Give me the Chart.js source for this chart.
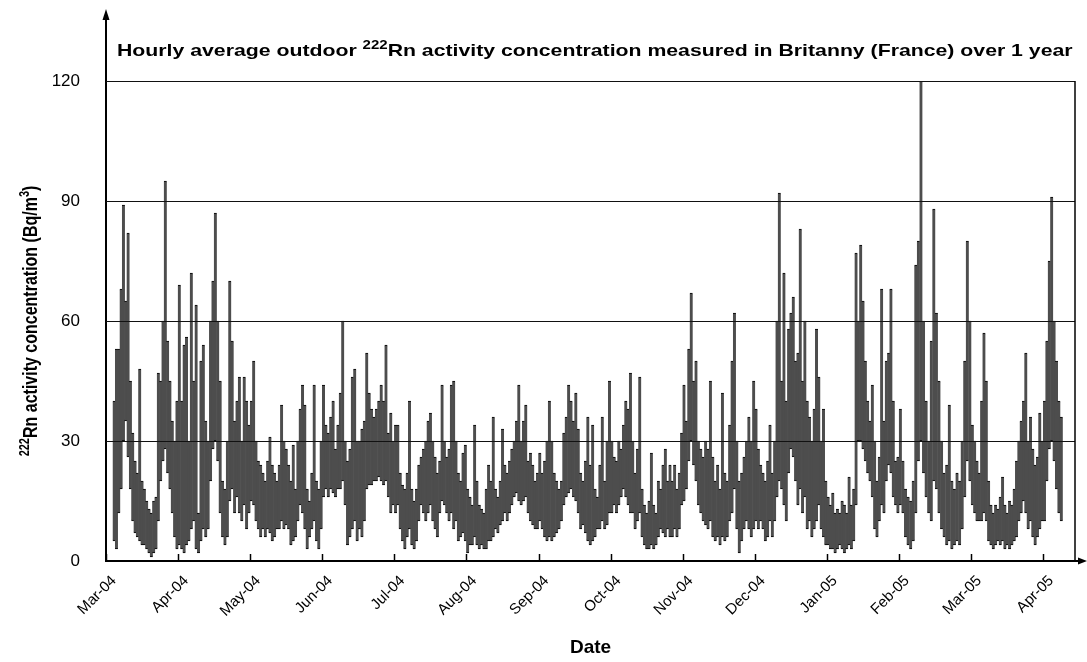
<!DOCTYPE html>
<html>
<head>
<meta charset="utf-8">
<script src="https://cdn.jsdelivr.net/npm/chart.js@4.4.1/dist/chart.umd.min.js"></script>
<style>
  html, body { margin: 0; padding: 0; background: #fff; }
  #wrap { width: 1087px; height: 662px; }
</style>
</head>
<body>
<div id="wrap"><canvas id="radonChart" width="1087" height="662"></canvas></div>
<script>
// month ticks on the date axis
const monthLabels = ["Mar-04", "Apr-04", "May-04", "Jun-04", "Jul-04", "Aug-04", "Sep-04",
  "Oct-04", "Nov-04", "Dec-04", "Jan-05", "Feb-05", "Mar-05", "Apr-05"];
const monthDays = [31, 30, 31, 30, 31, 31, 30, 31, 30, 31, 31, 28, 31, 30];
const yTicks = [0, 30, 60, 90, 120];

// daily lowest / highest hourly value (Bq/m3); null = no data yet
const mar04Low  = [null, null, null, 5, 3, 12, 18, 30, 35, 26, 18, 10, 7, 6, 5, 4, 4, 3, 2, 1, 2, 3, 10, 20, 25, 28, 22, 18, 12, 6, 3];
const mar04High = [null, null, null, 40, 53, 53, 68, 89, 65, 82, 45, 32, 25, 22, 48, 20, 18, 15, 13, 12, 15, 16, 47, 45, 60, 95, 55, 45, 35, 30, 40];
const apr04Low  = [4, 3, 2, 4, 5, 8, 10, 3, 2, 5, 8, 6, 8, 20, 28, 30, 25, 12, 6, 4, 6, 15, 18, 12, 16, 12, 10, 14, 8, 12];
const apr04High = [69, 40, 54, 56, 30, 72, 45, 64, 12, 50, 54, 35, 30, 60, 70, 87, 60, 45, 20, 18, 30, 70, 55, 35, 40, 46, 30, 46, 40, 34];
const may04Low  = [15, 14, 10, 8, 6, 8, 6, 8, 7, 5, 6, 8, 8, 10, 8, 9, 8, 4, 5, 6, 10, 14, 12, 8, 3, 6, 8, 10, 5, 3, 8];
const may04High = [40, 50, 30, 25, 24, 22, 20, 25, 31, 24, 22, 20, 24, 39, 30, 28, 24, 20, 29, 18, 30, 38, 44, 39, 18, 15, 22, 44, 20, 18, 30];
const jun04Low  = [16, 18, 16, 18, 17, 16, 18, 18, 20, 14, 4, 6, 8, 10, 5, 8, 6, 10, 18, 19, 19, 20, 20, 21, 20, 19, 20, 16, 12, 14];
const jun04High = [44, 34, 32, 36, 40, 28, 34, 42, 60, 30, 25, 28, 46, 48, 30, 30, 33, 35, 52, 42, 38, 36, 38, 40, 44, 40, 54, 32, 37, 30];
const jul04Low  = [12, 14, 8, 5, 3, 6, 8, 4, 3, 5, 10, 14, 12, 10, 12, 14, 10, 8, 6, 12, 15, 14, 12, 10, 12, 8, 10, 5, 6, 7, 5];
const jul04High = [34, 34, 22, 19, 18, 22, 40, 18, 15, 18, 24, 26, 28, 30, 35, 37, 30, 26, 22, 25, 44, 30, 26, 28, 44, 45, 30, 22, 20, 27, 29];
const aug04Low  = [2, 4, 4, 6, 4, 3, 4, 3, 3, 5, 5, 6, 8, 7, 9, 10, 12, 10, 12, 14, 16, 17, 15, 14, 15, 16, 12, 10, 9, 8, 8];
const aug04High = [18, 16, 14, 34, 20, 14, 13, 12, 18, 24, 20, 36, 18, 16, 20, 33, 24, 22, 25, 28, 30, 35, 44, 30, 35, 39, 25, 27, 24, 20, 22];
const sep04Low  = [10, 8, 6, 5, 6, 5, 6, 7, 8, 10, 14, 16, 17, 18, 16, 15, 12, 8, 9, 7, 5, 4, 5, 6, 8, 8, 10, 8, 9, 12];
const sep04High = [27, 22, 25, 30, 40, 30, 22, 20, 18, 20, 32, 36, 44, 40, 35, 42, 33, 22, 20, 25, 36, 24, 34, 18, 16, 24, 36, 20, 30, 45];
const oct04Low  = [12, 14, 12, 14, 16, 18, 16, 14, 12, 12, 8, 10, 12, 6, 4, 3, 3, 4, 3, 4, 6, 8, 7, 6, 8, 6, 6, 8, 6, 8, 14];
const oct04High = [30, 26, 25, 30, 28, 34, 40, 38, 47, 30, 22, 28, 46, 18, 14, 12, 15, 27, 14, 12, 20, 18, 24, 28, 20, 24, 20, 24, 18, 22, 32];
const nov04Low  = [15, 18, 25, 30, 24, 20, 14, 12, 10, 9, 8, 10, 6, 5, 6, 4, 6, 5, 6, 10, 12, 18, 8, 2, 5, 8, 10, 8, 6, 8];
const nov04High = [44, 35, 53, 67, 45, 50, 30, 28, 26, 30, 28, 45, 26, 20, 24, 18, 42, 22, 20, 34, 50, 62, 30, 20, 22, 26, 30, 36, 30, 45];
const dec04Low  = [10, 8, 10, 8, 5, 6, 10, 6, 10, 16, 20, 18, 14, 10, 22, 28, 26, 20, 14, 18, 12, 16, 8, 10, 6, 8, 10, 14, 8, 6, 4];
const dec04High = [38, 28, 24, 22, 20, 25, 34, 22, 30, 60, 92, 45, 72, 40, 58, 62, 66, 50, 52, 83, 45, 60, 40, 36, 30, 38, 58, 46, 30, 38, 20];
const jan05Low  = [4, 3, 3, 2, 3, 4, 3, 2, 3, 4, 3, 5, 14, 30, 30, 28, 25, 22, 20, 16, 8, 6, 10, 14, 12, 20, 24, 22, 16, 14, 12];
const jan05High = [16, 14, 17, 12, 13, 12, 15, 14, 12, 21, 14, 18, 77, 60, 79, 65, 50, 40, 35, 44, 30, 20, 26, 68, 35, 50, 52, 68, 40, 25, 26];
const feb05Low  = [14, 12, 6, 4, 3, 5, 12, 25, 30, 22, 16, 12, 10, 20, 18, 12, 8, 6, 4, 5, 3, 4, 5, 4, 8, 16, 25, 20];
const feb05High = [38, 25, 18, 16, 15, 20, 74, 80, 120, 60, 40, 30, 55, 88, 62, 45, 30, 22, 24, 39, 20, 18, 22, 20, 30, 50, 80, 60];
const mar05Low  = [14, 12, 10, 10, 10, 12, 10, 5, 4, 3, 4, 5, 4, 5, 3, 4, 3, 4, 5, 6, 10, 12, 15, 12, 8, 10, 6, 4, 6, 8, 10];
const mar05High = [34, 30, 25, 22, 40, 57, 45, 20, 14, 12, 14, 13, 16, 21, 14, 12, 15, 14, 18, 25, 30, 35, 40, 52, 30, 36, 28, 24, 26, 37, 30];
const apr05Low  = [10, 20, 28, 30, 25, 18, 12, 10];
const apr05High = [40, 55, 75, 91, 60, 50, 40, 36];

const months = [
  [mar04Low, mar04High], [apr04Low, apr04High], [may04Low, may04High], [jun04Low, jun04High],
  [jul04Low, jul04High], [aug04Low, aug04High], [sep04Low, sep04High], [oct04Low, oct04High],
  [nov04Low, nov04High], [dec04Low, dec04High], [jan05Low, jan05High], [feb05Low, feb05High],
  [mar05Low, mar05High], [apr05Low, apr05High]
];

// x is measured in months since 1 Mar 2004
const rangeData = [];
months.forEach(([lows, highs], m) => {
  lows.forEach((lo, i) => {
    if (lo === null) return;
    rangeData.push({ x: m + (i + 0.5) / monthDays[m], y: [lo, highs[i]] });
  });
});

const FONT = "'Liberation Sans', Arial, Helvetica, sans-serif";
const STRETCH = 1.25; // the original's text is wider than it is tall

// draws text with superscript parts, returns total width
function richText(ctx, parts, x, y, size, measureOnly) {
  let w = 0;
  parts.forEach(p => {
    ctx.font = "bold " + (p.sup ? Math.round(size * 0.68) : size) + "px " + FONT;
    if (!measureOnly) ctx.fillText(p.t, x + w, p.sup ? y - size * 0.42 : y);
    w += ctx.measureText(p.t).width;
  });
  return w;
}

const framePlugin = {
  id: "frame",
  afterDatasetsDraw(chart) {
    // the gridlines run over the data in the original
    const { ctx, chartArea: a, scales: { y } } = chart;
    ctx.save();
    ctx.strokeStyle = "#111";
    ctx.lineWidth = 1;
    yTicks.slice(1).forEach(v => {
      const py = Math.round(y.getPixelForValue(v)) + 0.5;
      ctx.beginPath();
      ctx.moveTo(a.left, py);
      ctx.lineTo(a.right, py);
      ctx.stroke();
    });
    ctx.restore();
  },
  afterDraw(chart) {
    const { ctx, chartArea: a, scales: { x, y } } = chart;
    ctx.save();
    ctx.strokeStyle = "#000";
    ctx.fillStyle = "#000";

    // right border of the plot box
    ctx.lineWidth = 1.5;
    ctx.beginPath();
    ctx.moveTo(a.right, y.getPixelForValue(120));
    ctx.lineTo(a.right, y.getPixelForValue(0));
    ctx.stroke();

    // y axis runs on up to an arrow
    ctx.lineWidth = 2;
    ctx.beginPath();
    ctx.moveTo(a.left, a.top);
    ctx.lineTo(a.left, 14);
    ctx.stroke();
    ctx.beginPath();
    ctx.moveTo(a.left, 9);
    ctx.lineTo(a.left - 3.5, 20);
    ctx.lineTo(a.left + 3.5, 20);
    ctx.closePath();
    ctx.fill();

    // x axis runs on to an arrow
    ctx.beginPath();
    ctx.moveTo(a.right, a.bottom);
    ctx.lineTo(a.right + 6, a.bottom);
    ctx.stroke();
    ctx.beginPath();
    ctx.moveTo(a.right + 12, a.bottom);
    ctx.lineTo(a.right + 3, a.bottom - 3.5);
    ctx.lineTo(a.right + 3, a.bottom + 3.5);
    ctx.closePath();
    ctx.fill();

    // month tick marks point into the plot
    ctx.lineWidth = 1.5;
    x.ticks.forEach(t => {
      const px = Math.round(x.getPixelForValue(t.value)) + 0.5;
      ctx.beginPath();
      ctx.moveTo(px, a.bottom);
      ctx.lineTo(px, a.bottom - 7);
      ctx.stroke();
    });

    // title inside the frame, widened like the original
    ctx.textBaseline = "alphabetic";
    ctx.textAlign = "left";
    ctx.save();
    ctx.translate(a.left + 11, 56);
    ctx.scale(STRETCH, 1);
    richText(ctx, [
      { t: "Hourly average outdoor " },
      { t: "222", sup: true },
      { t: "Rn activity concentration measured in Britanny (France) over 1 year" }
    ], 0, 0, 17);
    ctx.restore();

    // y axis title, rotated
    const yParts = [
      { t: "222", sup: true },
      { t: "Rn activity concentration (Bq/m" },
      { t: "3", sup: true },
      { t: ")" }
    ];
    const w = richText(ctx, yParts, 0, 0, 16, true);
    ctx.translate(37, (a.top + a.bottom) / 2);
    ctx.rotate(-Math.PI / 2);
    ctx.scale(1, STRETCH);
    richText(ctx, yParts, -w / 2, 0, 16);
    ctx.restore();
  }
};

new Chart(document.getElementById("radonChart"), {
  type: "bar",
  data: {
    datasets: [{
      data: rangeData,
      backgroundColor: "#4d4d4d",
      borderColor: "#000",
      borderWidth: { top: 1, bottom: 1, left: 0, right: 0 },
      borderSkipped: false,
      barThickness: 3,
      grouped: false
    }]
  },
  options: {
    responsive: false,
    animation: false,
    layout: { padding: { top: 81, right: 12, left: 0, bottom: 0 } },
    plugins: { legend: { display: false }, tooltip: { enabled: false } },
    scales: {
      x: {
        type: "linear",
        offset: false,
        min: 0,
        max: 13.44,
        afterFit: s => { s.height = 101; },
        afterBuildTicks: s => { s.ticks = monthLabels.map((_, i) => ({ value: i })); },
        grid: { display: false },
        border: { display: true, color: "#000", width: 2 },
        ticks: {
          minRotation: 45,
          maxRotation: 45,
          autoSkip: false,
          padding: 3,
          labelOffset: 8,
          color: "#000",
          font: { family: FONT, size: 15 },
          callback: v => monthLabels[v]
        },
        title: {
          display: true,
          text: "Date",
          color: "#000",
          font: { family: FONT, size: 19, weight: "bold" },
          padding: { top: 0, bottom: 3 }
        }
      },
      y: {
        min: 0,
        max: 120,
        afterFit: s => { s.width = 106; },
        afterBuildTicks: s => { s.ticks = yTicks.map(v => ({ value: v })); },
        grid: { color: "#222", lineWidth: 1, drawTicks: false },
        border: { display: true, color: "#000", width: 2 },
        ticks: {
          padding: 26,
          color: "#000",
          font: { family: FONT, size: 17 }
        }
      }
    }
  },
  plugins: [framePlugin]
});
</script>
</body>
</html>
